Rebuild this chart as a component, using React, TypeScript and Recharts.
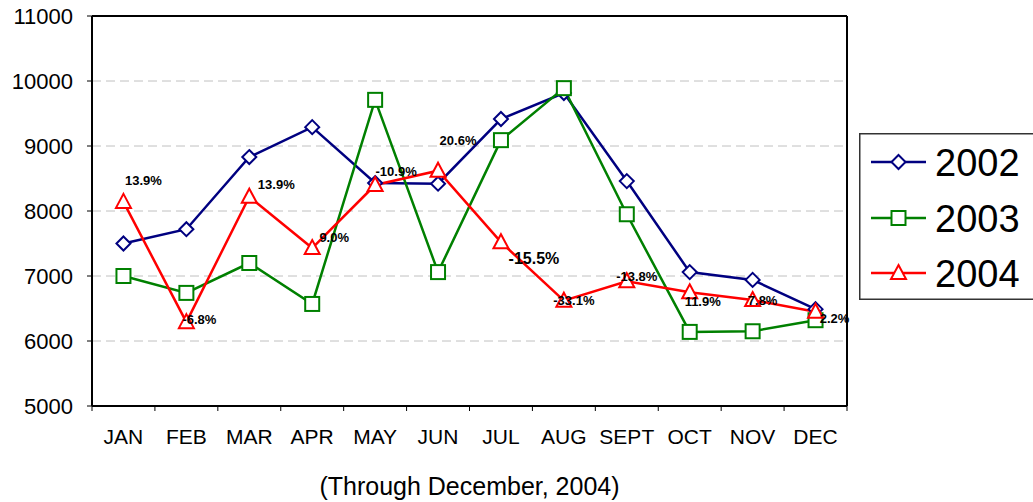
import React from 'react';
import { LineChart, Line, XAxis, YAxis, CartesianGrid, LabelList, Legend } from 'recharts';

const months = ['JAN', 'FEB', 'MAR', 'APR', 'MAY', 'JUN', 'JUL', 'AUG', 'SEPT', 'OCT', 'NOV', 'DEC'];
const sales2002 = [7500, 7720, 8830, 9290, 8430, 8420, 9415, 9815, 8460, 7060, 6940, 6490];
const sales2003 = [7000, 6740, 7200, 6570, 9710, 7060, 9090, 9890, 7950, 6140, 6150, 6320];
const sales2004 = [8140, 6290, 8220, 7430, 8400, 8620, 7520, 6620, 6920, 6750, 6630, 6450];
const changeLabels = ['13.9%', '-6.8%', '13.9%', '9.0%', '-10.9%', '20.6%', '-15.5%', '-33.1%', '-13.8%', '11.9%', '7.8%', '2.2%'];
const yTicks = [5000, 6000, 7000, 8000, 9000, 10000, 11000];
const seriesNames = ['2002', '2003', '2004'];
const subtitle = '(Through December, 2004)';

const FONT = '"Liberation Sans", Arial, sans-serif';
const COLORS = ['#000080', '#008000', '#FF0000'];
const X_TICK_GAP = 23;
const X_TICK_LEN = 5;

// label placement styles (relative to the point)
const labelStyle = [
  { dx: 20, dy: -21, size: 13 },
  { dx: 13, dy: -3, size: 13 },
  { dx: 27, dy: -12, size: 13 },
  { dx: 22, dy: -11, size: 13 },
  { dx: 21, dy: -14, size: 13 },
  { dx: 20, dy: -30, size: 13 },
  { dx: 33, dy: 16, size: 16 },
  { dx: 10, dy: 0, size: 13 },
  { dx: 10, dy: -5, size: 13 },
  { dx: 13, dy: 9, size: 13 },
  { dx: 10, dy: 0, size: 13 },
  { dx: 19, dy: 7, size: 13 },
];

const data = months.map((m, i) => ({
  month: m,
  s2002: sales2002[i],
  s2003: sales2003[i],
  s2004: sales2004[i],
  pct: changeLabels[i],
}));

const Marker = ({ kind, cx, cy, color }: any) => {
  if (cx == null || cy == null) return null;
  if (kind === 0) {
    const r = 7;
    return (
      <polygon
        points={`${cx},${cy - r} ${cx + r},${cy} ${cx},${cy + r} ${cx - r},${cy}`}
        fill="#fff"
        stroke={color}
        strokeWidth={2}
      />
    );
  }
  if (kind === 1) {
    const h = 7;
    return <rect x={cx - h} y={cy - h} width={2 * h} height={2 * h} fill="#fff" stroke={color} strokeWidth={2} />;
  }
  const w = 7.5;
  return (
    <polygon
      points={`${cx},${cy - 8} ${cx + w},${cy + 6} ${cx - w},${cy + 6}`}
      fill="#fff"
      stroke={color}
      strokeWidth={2}
    />
  );
};

const makeDot = (kind: number) => (p: any) => (
  <Marker key={`dot-${kind}-${p.index}`} kind={kind} cx={p.cx} cy={p.cy} color={COLORS[kind]} />
);

const renderPct = (p: any) => {
  const { x, y, index, value } = p;
  if (x == null || y == null) return null;
  const st = labelStyle[index] || { dx: 10, dy: 0, size: 13 };
  return (
    <text
      key={`lbl-${index}`}
      x={x + st.dx}
      y={y + st.dy}
      textAnchor="middle"
      dominantBaseline="central"
      fontFamily={FONT}
      fontWeight="bold"
      fontSize={st.size}
      fill="#000"
    >
      {value}
    </text>
  );
};

// month label plus tick marks on the category boundaries
const MonthTick = (p: any) => {
  const { x, y, payload, index, width, visibleTicksCount } = p;
  const count = visibleTicksCount || months.length;
  const band = Number(width) / count;
  const axisY = y - X_TICK_GAP;
  const left = x - band / 2;
  return (
    <g>
      <line x1={left} x2={left} y1={axisY} y2={axisY + X_TICK_LEN} stroke="#000" strokeWidth={1} />
      {index === count - 1 && (
        <line x1={x + band / 2} x2={x + band / 2} y1={axisY} y2={axisY + X_TICK_LEN} stroke="#000" strokeWidth={1} />
      )}
      <text x={x} y={y} dy="0.71em" textAnchor="middle" fontFamily={FONT} fontSize={21} fill="#000">
        {payload.value}
      </text>
    </g>
  );
};

const LegendBox = () => {
  const rows = [29, 85, 140];
  return (
    <svg width={176} height={167} style={{ display: 'block' }}>
      <rect x={0.75} y={0.75} width={174.5} height={165.5} fill="#fff" stroke="#333" strokeWidth={1.5} />
      {seriesNames.map((n, i) => (
        <g key={n}>
          <line x1={12} x2={67} y1={rows[i]} y2={rows[i]} stroke={COLORS[i]} strokeWidth={2.5} />
          <Marker kind={i} cx={39.5} cy={rows[i]} color={COLORS[i]} />
          <text x={76} y={rows[i] + 13.5} fontFamily={FONT} fontSize={38} fill="#000">
            {n}
          </text>
        </g>
      ))}
    </svg>
  );
};

export default function App() {
  return (
    <div style={{ position: 'absolute', left: 0, top: 0, width: 1033, height: 502, background: '#fff' }}>
      <LineChart width={1033} height={502} data={data} margin={{ top: 15, right: 185, bottom: 0, left: 0 }}>
        <CartesianGrid
          yAxisId="left"
          xAxisId="cat"
          vertical={false}
          stroke="#C0C0C0"
          strokeDasharray="9 5"
          strokeWidth={1}
        />
        <XAxis
          xAxisId="cat"
          dataKey="month"
          scale="band"
          height={96}
          axisLine={{ stroke: '#000', strokeWidth: 2 }}
          tickLine={false}
          tickSize={0}
          tickMargin={X_TICK_GAP}
          interval={0}
          tick={MonthTick}
          label={{
            value: subtitle,
            position: 'insideBottom',
            offset: 7,
            fill: '#000',
            fontSize: 25,
            fontFamily: FONT,
          }}
        />
        <XAxis
          xAxisId="top"
          orientation="top"
          type="number"
          domain={[0, 12]}
          height={1}
          tick={false}
          tickLine={false}
          axisLine={{ stroke: '#000', strokeWidth: 2 }}
          allowDataOverflow
        />
        <YAxis
          yAxisId="left"
          width={92}
          domain={[5000, 11000]}
          ticks={yTicks}
          interval={0}
          tickSize={5}
          tickMargin={14}
          tick={{ fill: '#000', fontSize: 22, fontFamily: FONT }}
          tickLine={{ stroke: '#000', strokeWidth: 1 }}
          axisLine={{ stroke: '#000', strokeWidth: 2 }}
        />
        <YAxis
          yAxisId="right"
          orientation="right"
          width={1}
          domain={[5000, 11000]}
          tick={false}
          tickLine={false}
          axisLine={{ stroke: '#000', strokeWidth: 2 }}
          allowDataOverflow
        />
        <Line
          xAxisId="cat"
          yAxisId="left"
          dataKey="s2002"
          name={seriesNames[0]}
          stroke={COLORS[0]}
          strokeWidth={2.5}
          dot={makeDot(0)}
          activeDot={false}
          isAnimationActive={false}
        />
        <Line
          xAxisId="cat"
          yAxisId="left"
          dataKey="s2003"
          name={seriesNames[1]}
          stroke={COLORS[1]}
          strokeWidth={2.5}
          dot={makeDot(1)}
          activeDot={false}
          isAnimationActive={false}
        />
        <Line
          xAxisId="cat"
          yAxisId="left"
          dataKey="s2004"
          name={seriesNames[2]}
          stroke={COLORS[2]}
          strokeWidth={2.5}
          dot={makeDot(2)}
          activeDot={false}
          isAnimationActive={false}
        >
          <LabelList dataKey="pct" content={renderPct} />
        </Line>
        <Legend
          layout="vertical"
          align="center"
          verticalAlign="middle"
          content={() => <LegendBox />}
          wrapperStyle={{ position: 'absolute', left: 859, top: 133, width: 176, height: 167 }}
        />
      </LineChart>
    </div>
  );
}
